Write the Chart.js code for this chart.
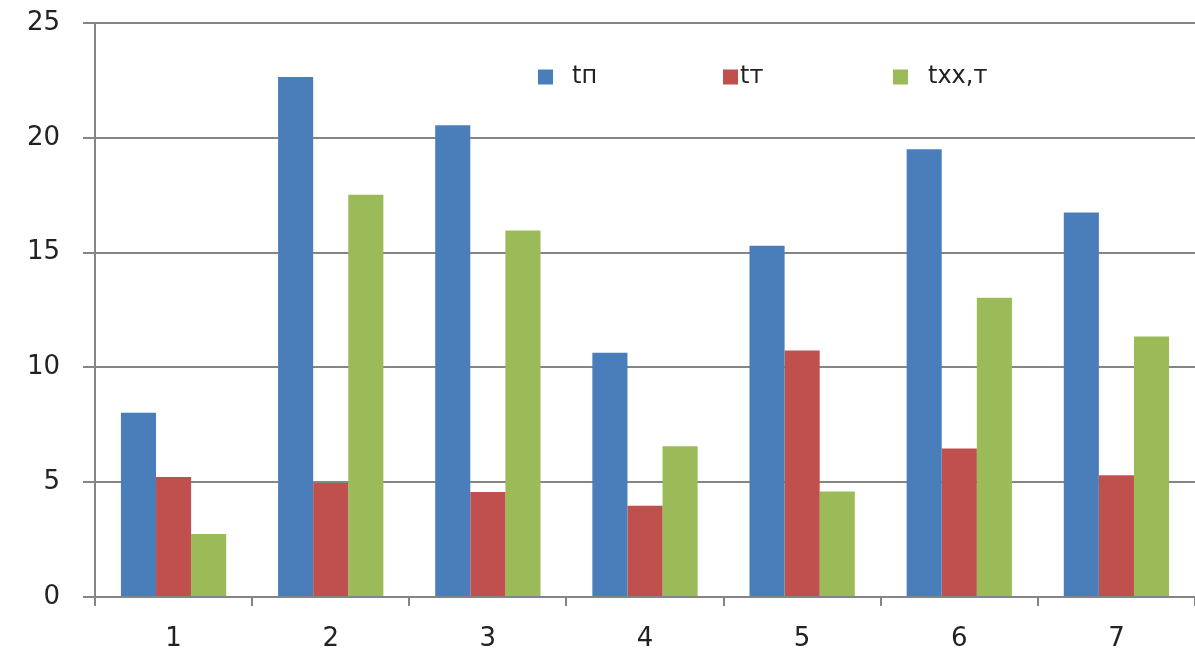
<!DOCTYPE html>
<html>
<head>
<meta charset="utf-8">
<script src="https://cdn.jsdelivr.net/npm/chart.js@4/dist/chart.umd.min.js"></script>
<style>
  html, body { margin: 0; padding: 0; background: #fff; }
  #wrap { width: 1195px; height: 654px; position: relative; }
</style>
</head>
<body>
<div id="wrap"><canvas id="c" width="1195" height="654"></canvas></div>
<script>
// Categories and series
const categories = ['1', '2', '3', '4', '5', '6', '7'];
const seriesNames = ['tп', 'tт', 'txx,т'];
const tpValues  = [8.03, 22.65, 20.55, 10.64, 15.3, 19.5, 16.75];
const ttValues  = [5.23, 4.97, 4.57, 3.97, 10.74, 6.47, 5.3];
const txxValues = [2.74, 17.52, 15.96, 6.57, 4.6, 13.03, 11.35];
const yTicks = [0, 5, 10, 15, 20, 25];

const colors = ['#4a7ebb', '#c0504d', '#9bbb59'];
const gridColor = '#858585';
const fontFamily = '"DejaVu Sans", Verdana, sans-serif';

// Legend drawn inside the plot area, on one row near the top
const legendInside = {
  id: 'legendInside',
  afterDatasetsDraw(chart) {
    const ctx = chart.ctx;
    const boxX = [538, 723, 893];
    const textX = [572, 740, 928];
    const y = 77;
    ctx.save();
    ctx.font = '24px ' + fontFamily;
    ctx.textBaseline = 'middle';
    chart.data.datasets.forEach((ds, i) => {
      ctx.fillStyle = ds.backgroundColor;
      ctx.fillRect(boxX[i], y - 7.5, 15, 15);
      ctx.fillStyle = '#222';
      ctx.fillText(ds.label, textX[i], y);
    });
    ctx.restore();
  }
};

new Chart(document.getElementById('c'), {
  type: 'bar',
  data: {
    labels: categories,
    datasets: [
      { label: seriesNames[0], data: tpValues,  backgroundColor: colors[0] },
      { label: seriesNames[1], data: ttValues,  backgroundColor: colors[1] },
      { label: seriesNames[2], data: txxValues, backgroundColor: colors[2] }
    ]
  },
  options: {
    responsive: false,
    animation: false,
    devicePixelRatio: 1,
    layout: { padding: { top: 23, right: 0, left: 0, bottom: 0 } },
    datasets: { bar: { categoryPercentage: 0.67, barPercentage: 1.0 } },
    plugins: {
      legend: { display: false },
      tooltip: { enabled: false }
    },
    scales: {
      x: {
        afterFit(scale) { scale.height = 57; },
        grid: {
          display: true,
          offset: true,
          drawOnChartArea: false,
          drawTicks: true,
          tickLength: 9,
          color: gridColor,
          lineWidth: 2
        },
        border: { display: true, color: gridColor, width: 2 },
        ticks: {
          padding: 18,
          color: '#222',
          font: { family: fontFamily, size: 26 }
        }
      },
      y: {
        min: 0,
        max: 25,
        afterFit(scale) {
          scale.width = 95;
          scale.paddingTop = 0;
          scale.paddingBottom = 0;
        },
        afterBuildTicks(scale) { scale.ticks = yTicks.map(v => ({ value: v })); },
        grid: {
          color: gridColor,
          lineWidth: 2,
          drawTicks: true,
          tickLength: 12
        },
        border: { display: true, color: gridColor, width: 2 },
        ticks: {
          padding: 23,
          color: '#222',
          font: { family: fontFamily, size: 26 }
        }
      }
    }
  },
  plugins: [legendInside]
});
</script>
</body>
</html>
